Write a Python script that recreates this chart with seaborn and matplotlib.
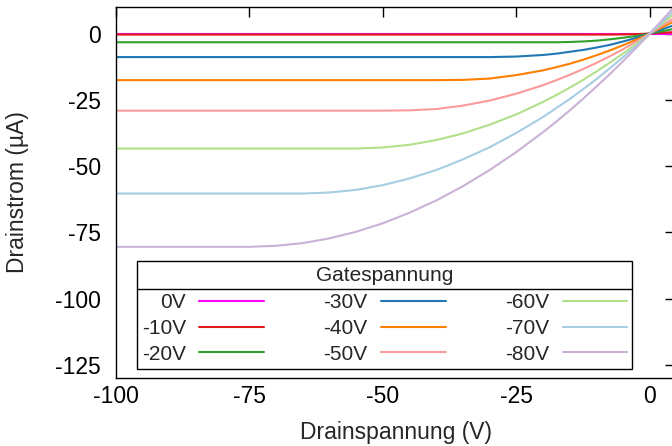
import pandas as pd
import seaborn as sns
import matplotlib.pyplot as plt
from matplotlib.lines import Line2D

# Drainspannung (V) sample points
vds = [-100, -90, -80, -75, -70, -65, -60, -55, -50, -45, -40, -35, -30, -25,
       -20, -17.5, -15, -12.5, -10, -7.5, -5, -2.5, 0, 2.5, 5]

# Drainstrom (uA) per gate voltage
i_0 = [0] * 25
i_10 = [-0.4, -0.4, -0.4, -0.4, -0.4, -0.4, -0.4, -0.4, -0.4, -0.4, -0.4, -0.4, -0.4, -0.4,
        -0.4, -0.4, -0.4, -0.4, -0.4, -0.4, -0.35, -0.25, 0, 0.3, 0.6]
i_20 = [-3.3, -3.3, -3.3, -3.3, -3.3, -3.3, -3.3, -3.3, -3.3, -3.3, -3.3, -3.3, -3.3, -3.3,
        -3.3, -3.3, -3.2, -3.0, -2.7, -2.2, -1.6, -0.9, 0, 0.9, 2.0]
i_30 = [-8.9, -8.9, -8.9, -8.9, -8.9, -8.9, -8.9, -8.9, -8.9, -8.9, -8.9, -8.9, -8.9, -8.7,
        -8.1, -7.6, -6.9, -6.2, -5.3, -4.3, -3.0, -1.6, 0, 1.7, 3.5]
i_40 = [-17.6, -17.6, -17.6, -17.6, -17.6, -17.6, -17.6, -17.6, -17.6, -17.6, -17.6, -17.5, -17.0, -15.7,
        -13.9, -12.7, -11.4, -9.9, -8.2, -6.4, -4.4, -2.3, 0, 2.5, 5.1]
i_50 = [-29.1, -29.1, -29.1, -29.1, -29.1, -29.1, -29.1, -29.1, -29.1, -29.0, -28.5, -27.2, -25.3, -22.7,
        -19.5, -17.6, -15.6, -13.4, -11.1, -8.6, -5.9, -3.0, 0, 3.2, 6.5]
i_60 = [-43.4, -43.4, -43.4, -43.4, -43.4, -43.4, -43.4, -43.4, -43.0, -42.0, -40.2, -37.7, -34.4, -30.5,
        -25.8, -23.2, -20.4, -17.5, -14.3, -11.0, -7.5, -3.9, 0, 4.0, 8.3]
i_70 = [-60.4, -60.4, -60.4, -60.4, -60.4, -60.4, -60.0, -59.0, -57.2, -54.7, -51.5, -47.5, -42.9, -37.5,
        -31.5, -28.1, -24.7, -21.0, -17.2, -13.1, -8.9, -4.6, 0, 4.7, 9.7]
i_80 = [-80.5, -80.5, -80.5, -80.5, -80.1, -79.1, -77.3, -74.8, -71.6, -67.6, -63.0, -57.6, -51.5, -44.7,
        -37.2, -33.2, -29.0, -24.6, -20.0, -15.3, -10.4, -5.3, 0, 5.5, 11.1]

gate_labels = ['0V', '-10V', '-20V', '-30V', '-40V', '-50V', '-60V', '-70V', '-80V']
currents = [i_0, i_10, i_20, i_30, i_40, i_50, i_60, i_70, i_80]

paired = sns.color_palette('Paired')
colors = ['#ff00ff', paired[5], paired[3], paired[1], paired[7],
          paired[4], paired[2], paired[0], paired[8]]

sns.set_style('white')
plt.rcParams['font.family'] = ['Liberation Sans', 'DejaVu Sans']
plt.rcParams['axes.unicode_minus'] = False

df = pd.concat([pd.DataFrame({'Vds': vds, 'Id': cur, 'Gate': lab})
                for lab, cur in zip(gate_labels, currents)], ignore_index=True)

fig = plt.figure(figsize=(6.72, 4.46), dpi=100)
ax = fig.add_axes([116 / 672, 1 - 378 / 446, (675 - 116) / 672, (378 - 7) / 446])

sns.lineplot(data=df, x='Vds', y='Id', hue='Gate', hue_order=gate_labels,
             palette=dict(zip(gate_labels, colors)), sort=False,
             linewidth=1.5, ax=ax)

ax.set_xlim(-100, 4.7)
ax.set_ylim(-130, 10)
ax.set_xticks([-100, -75, -50, -25, 0])
ax.set_yticks([0, -25, -50, -75, -100, -125])
for s in ax.spines.values():
    s.set_color('black')
    s.set_linewidth(1.0)
ax.tick_params(direction='in', length=7, width=1, top=True, right=True,
               labelsize=16.5, colors='black')
ax.tick_params(axis='x', pad=5)
ax.tick_params(axis='y', pad=11)

ax.set_xlabel('Drainspannung (V)', fontsize=16.5)
ax.set_ylabel('Drainstrom (µA)', fontsize=16.5)
ax.xaxis.set_label_coords(0.5, -0.115)
ax.yaxis.set_label_coords(-0.155, 0.5)

handles, labels = ax.get_legend_handles_labels()
leg = ax.legend(handles, labels, title='Gatespannung', ncol=3, markerfirst=False,
                loc='lower center', bbox_to_anchor=(384.5 / 672, 1 - 369 / 446),
                bbox_transform=fig.transFigure, fontsize=15, title_fontsize=15,
                handlelength=3.1, handletextpad=0.65, columnspacing=2.85,
                borderpad=0.25, labelspacing=0.32, borderaxespad=0,
                fancybox=False, framealpha=1, edgecolor='black')
leg.get_frame().set_linewidth(1.0)
leg._legend_box.sep = 0.32 * 15 + 1  # a bit more room under the title
for ln in leg.get_lines():
    ln.set_linewidth(1.5)

# separator under the legend title
fig.canvas.draw()
r = fig.canvas.get_renderer()
fb = leg.get_frame().get_window_extent(r)
tb = leg.get_title().get_window_extent(r)
hb = leg._legend_handle_box.get_window_extent(r)
ysep = (tb.y0 + hb.y1) / 2
inv = fig.transFigure.inverted()
(x0, y0), (x1, _) = inv.transform([(fb.x0, ysep), (fb.x1, ysep)])
fig.add_artist(Line2D([x0, x1], [y0, y0], color='black', linewidth=1.0, zorder=6))

plt.savefig('out.png', dpi=100)
